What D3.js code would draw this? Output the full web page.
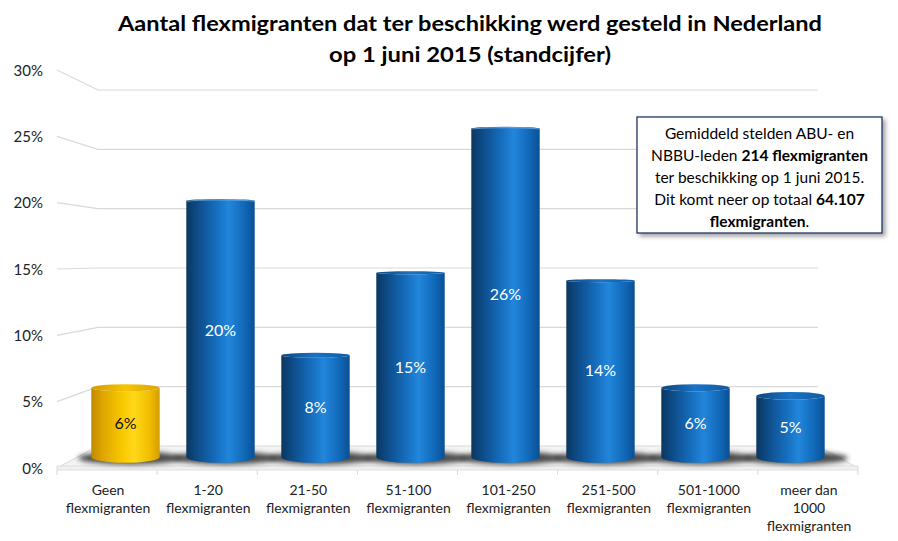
<!DOCTYPE html>
<html>
<head>
<meta charset="utf-8">
<script src="https://cdn.jsdelivr.net/npm/d3@7"></script>
<style>
body { margin: 0; background: #fff; }
text { font-family: Lato, "Open Sans", sans-serif; }
</style>
</head>
<body>
<script>
// chart data
var categories = [
        ["Geen", "flexmigranten"],
        ["1-20", "flexmigranten"],
        ["21-50", "flexmigranten"],
        ["51-100", "flexmigranten"],
        ["101-250", "flexmigranten"],
        ["251-500", "flexmigranten"],
        ["501-1000", "flexmigranten"],
        ["meer dan", "1000", "flexmigranten"]
];
var values = [6.0, 20.1, 8.4, 14.6, 25.6, 14.0, 6.0, 5.4];
var highlighted = [0];
var yTicks = [0, 5, 10, 15, 20, 25, 30];
var titleLines = ["Aantal flexmigranten dat ter beschikking werd gesteld in Nederland",
        "op 1 juni 2015 (standcijfer)"];
var noteLines = [
        [["Gemiddeld stelden ABU- en", false]],
        [["NBBU-leden ", false], ["214 flexmigranten", true]],
        [["ter beschikking op 1 juni 2015.", false]],
        [["Dit komt neer op totaal ", false], ["64.107", true]],
        [["flexmigranten", true], [".", false]]
];

var W = 898, H = 541;
var horizon = 269;

var svg = d3.select('body').append('svg')
        .attr('width', W)
        .attr('height', H);

var defs = svg.append('defs');

function cylGrad(id, stops) {
        var g = defs.append('linearGradient').attr('id', id)
                .attr('x1', 0).attr('x2', 1).attr('y1', 0).attr('y2', 0);
        stops.forEach(function(s) {
                g.append('stop').attr('offset', s[0]).attr('stop-color', s[1]);
        });
}
cylGrad('blueBody', [[0, '#0b3760'], [0.15, '#0d4a85'], [0.45, '#166fc0'], [0.62, '#2286db'], [0.85, '#1168b8'], [1, '#0a4f93']]);
cylGrad('blueTop', [[0, '#0c4680'], [0.5, '#1a73c4'], [1, '#0f5aa3']]);
cylGrad('goldBody', [[0, '#c08a00'], [0.15, '#dca300'], [0.45, '#f8c800'], [0.62, '#ffd81a'], [0.85, '#f2be00'], [1, '#d49c00']]);
cylGrad('goldTop', [[0, '#d49c00'], [0.5, '#f5c400'], [1, '#dca600']]);

defs.append('filter').attr('id', 'blur')
        .attr('x', '-50%').attr('y', '-100%').attr('width', '200%').attr('height', '300%')
        .append('feGaussianBlur').attr('stdDeviation', 2.5);

var ds = defs.append('filter').attr('id', 'boxShadow')
        .attr('x', '-10%').attr('y', '-10%').attr('width', '130%').attr('height', '130%');
ds.append('feDropShadow').attr('dx', 3).attr('dy', 3).attr('stdDeviation', 2)
        .attr('flood-color', '#000').attr('flood-opacity', 0.35);

// scales
var idx = d3.range(categories.length);
var xFront = d3.scaleBand().domain(idx).range([57, 858]);
var xMid = d3.scaleBand().domain(idx).range([78, 838]);
var yFront = d3.scaleLinear().domain([0, 30]).range([468, 70]);
var yBack = d3.scaleLinear().domain([0, 30]).range([446, 90]);
var yBar = d3.scaleLinear().domain([0, 30]).range([463, 69]);
var backLeft = 98, backRight = 818;

// title
svg.selectAll('.title').data(titleLines).enter().append('text')
        .attr('class', 'title')
        .attr('x', 470)
        .attr('y', function(d, i) { return 31 + i * 31; })
        .attr('text-anchor', 'middle')
        .attr('textLength', function(d, i) { return i === 0 ? 704 : 282; })
        .attr('lengthAdjust', 'spacingAndGlyphs')
        .style('font-size', '21.5px')
        .style('font-weight', 'bold')
        .style('fill', '#000')
        .text(function(d) { return d; });

// gridlines: side wall connector + back wall line
var grid = svg.append('g');
yTicks.filter(function(t) { return t > 0; }).forEach(function(t) {
        grid.append('polyline')
                .attr('points', [[57, yFront(t)], [backLeft, yBack(t)], [backRight, yBack(t)]].join(' '))
                .attr('fill', 'none')
                .attr('stroke', '#d9d9d9')
                .attr('stroke-width', 1.2);
});

// floor
grid.append('polygon')
        .attr('points', [[57, yFront(0)], [858, yFront(0)], [backRight, yBack(0)], [backLeft, yBack(0)]].join(' '))
        .attr('fill', '#f4f4f4')
        .attr('stroke', '#d9d9d9');
grid.append('rect')
        .attr('x', 57).attr('y', yFront(0) - 2)
        .attr('width', 801).attr('height', 4)
        .attr('fill', '#f0f0f0')
        .attr('stroke', '#d9d9d9')
        .attr('stroke-width', 0.8);
d3.range(categories.length + 1).forEach(function(i) {
        var x = 57 + i * xFront.bandwidth();
        grid.append('line')
                .attr('x1', x).attr('x2', x)
                .attr('y1', yFront(0) + 2).attr('y2', yFront(0) + 7)
                .attr('stroke', '#d9d9d9');
});

// y axis labels
svg.selectAll('.ylab').data(yTicks).enter().append('text')
        .attr('x', 43)
        .attr('y', function(d) { return yFront(d) + 5.5; })
        .attr('text-anchor', 'end')
        .style('font-size', '15px')
        .style('fill', '#222')
        .text(function(d) { return d + '%'; });

// category labels
categories.forEach(function(lines, i) {
        var t = svg.append('text')
                .attr('x', xFront(i) + xFront.bandwidth() / 2 + 1)
                .attr('y', 495)
                .attr('text-anchor', 'middle')
                .style('font-size', '14px')
                .style('fill', '#222');
        lines.forEach(function(l, j) {
                t.append('tspan')
                        .attr('x', xFront(i) + xFront.bandwidth() / 2 + 1)
                        .attr('dy', j === 0 ? 0 : 18)
                        .text(l);
        });
});

// bars
var bw = xMid.bandwidth() * 0.72;
var baseY = 457;
function rim(y) { return Math.max(1.5, Math.abs(y - horizon) * 0.031); }

var bars = svg.append('g');
values.forEach(function(v, i) {
        var cx = xMid(i) + xMid.bandwidth() / 2;
        var gold = highlighted.indexOf(i) >= 0;
        var bodyFill = gold ? 'url(#goldBody)' : 'url(#blueBody)';
        var topFill = gold ? 'url(#goldTop)' : 'url(#blueTop)';
        var topEdge = yBar(v);
        var rb = rim(baseY);
        var rx = bw / 2;

        // shadow on the floor
        bars.append('ellipse')
                .attr('cx', cx + 5).attr('cy', baseY + 1)
                .attr('rx', rx + 18).attr('ry', 6.5)
                .attr('fill', '#2e2e2e')
                .attr('opacity', 0.85)
                .attr('filter', 'url(#blur)');

        var g = bars.append('g');
        var path;
        if (topEdge > horizon) {
                var rt = rim(topEdge);
                var ty = topEdge + rt;
                path = 'M' + (cx - rx) + ',' + ty +
                        ' L' + (cx - rx) + ',' + baseY +
                        ' A' + rx + ',' + rb + ' 0 0 0 ' + (cx + rx) + ',' + baseY +
                        ' L' + (cx + rx) + ',' + ty +
                        ' A' + rx + ',' + rt + ' 0 0 1 ' + (cx - rx) + ',' + ty + 'Z';
                g.append('path').attr('d', path).attr('fill', bodyFill);
                g.append('ellipse')
                        .attr('cx', cx).attr('cy', ty)
                        .attr('rx', rx).attr('ry', rt)
                        .attr('fill', topFill);
        } else {
                var ra = 1.8;
                var ty2 = topEdge + ra;
                path = 'M' + (cx - rx) + ',' + ty2 +
                        ' L' + (cx - rx) + ',' + baseY +
                        ' A' + rx + ',' + rb + ' 0 0 0 ' + (cx + rx) + ',' + baseY +
                        ' L' + (cx + rx) + ',' + ty2 +
                        ' A' + rx + ',' + ra + ' 0 0 0 ' + (cx - rx) + ',' + ty2 + 'Z';
                g.append('path').attr('d', path).attr('fill', bodyFill);
                g.append('path')
                        .attr('d', 'M' + (cx - rx + 1) + ',' + (ty2 + 0.5) +
                                ' A' + rx + ',' + ra + ' 0 0 1 ' + (cx + rx - 1) + ',' + (ty2 + 0.5))
                        .attr('fill', 'none')
                        .attr('stroke', '#8fc1ee')
                        .attr('stroke-width', 0.8)
                        .attr('opacity', 0.8);
        }

        g.append('text')
                .attr('x', cx)
                .attr('y', (topEdge + baseY + rb) / 2 + 5.5)
                .attr('text-anchor', 'middle')
                .style('font-size', '16px')
                .style('fill', gold ? '#111' : '#fff')
                .text(Math.round(v) + '%');
});

// note box
var note = svg.append('g');
note.append('rect')
        .attr('x', 637).attr('y', 117)
        .attr('width', 245).attr('height', 116)
        .attr('fill', '#fff')
        .attr('stroke', '#1f3864')
        .attr('stroke-width', 1.3)
        .attr('filter', 'url(#boxShadow)');
noteLines.forEach(function(parts, i) {
        var t = note.append('text')
                .attr('x', 759.5)
                .attr('y', 139 + i * 22)
                .attr('text-anchor', 'middle')
                .style('font-size', '15.5px')
                .style('fill', '#000');
        parts.forEach(function(p) {
                t.append('tspan')
                        .style('font-weight', p[1] ? 'bold' : 'normal')
                        .text(p[0]);
        });
});
</script>
</body>
</html>
